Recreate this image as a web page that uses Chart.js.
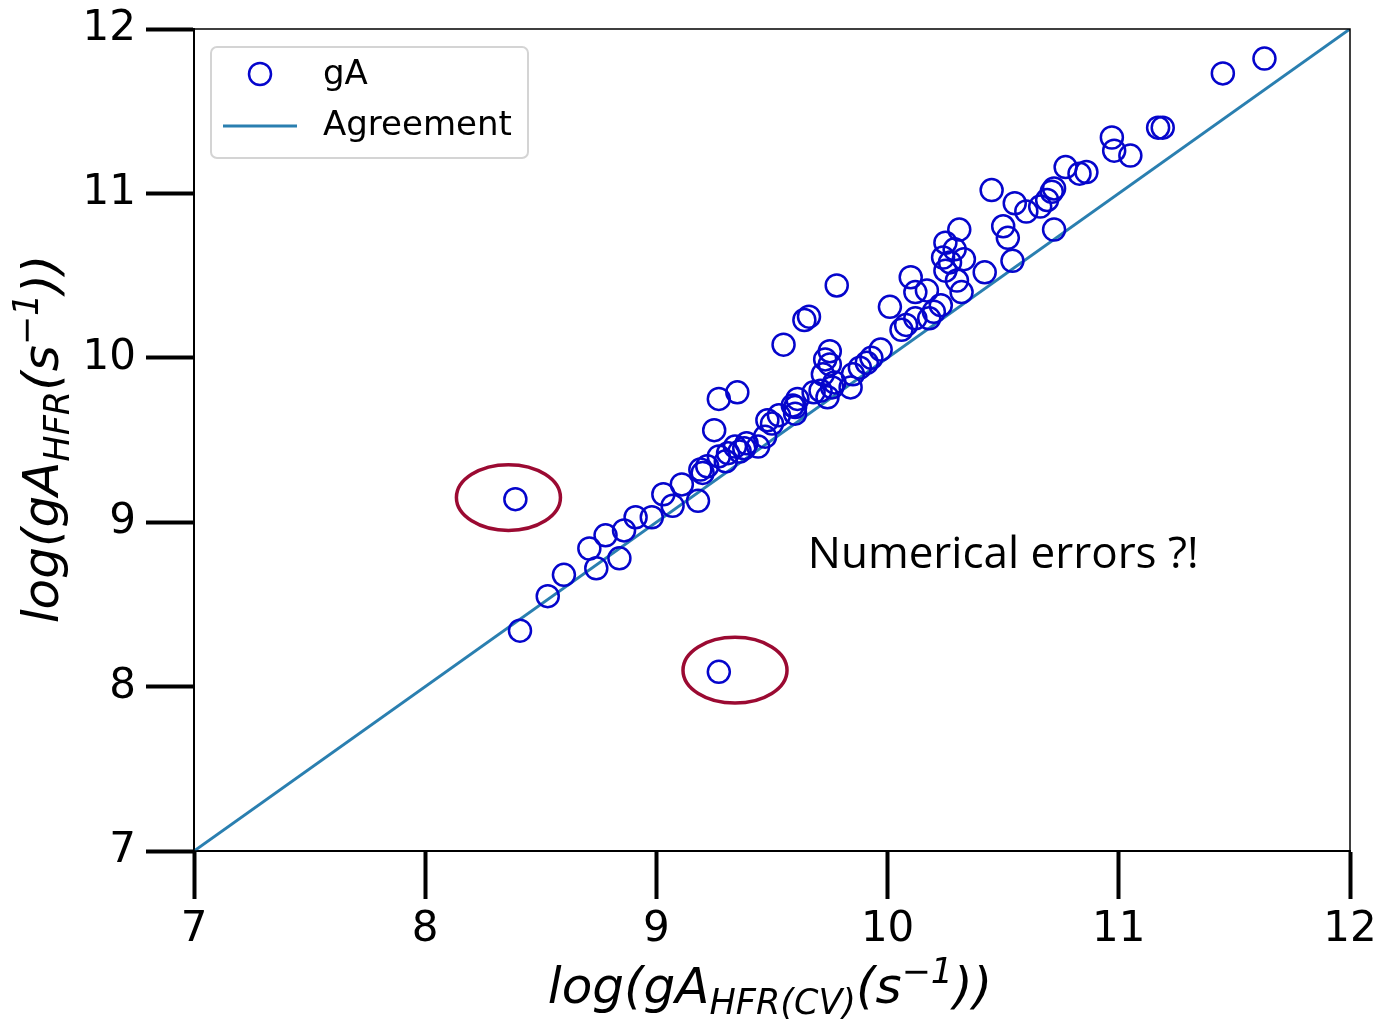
<!DOCTYPE html>
<html>
<head>
<meta charset="utf-8">
<script src="https://cdn.jsdelivr.net/npm/chart.js@4/dist/chart.umd.min.js"></script>
<style>
  html, body { margin: 0; padding: 0; background: #fff; }
  #wrap { width: 1378px; height: 1020px; }
</style>
</head>
<body>
<div id="wrap"><canvas id="gaChart" width="1378" height="1020"></canvas></div>
<script>
// log(gA_HFR(CV)) 값 (x축)
const xCV = [
    8.39, 9.27, 8.41, 8.53, 8.60, 8.71, 8.74, 8.78, 8.84, 8.86,
    8.91, 8.98, 9.03, 9.07, 9.11, 9.18, 9.19, 9.22, 9.25, 9.27,
    9.35, 9.27, 9.30, 9.31, 9.34, 9.36, 9.38, 9.39, 9.44, 9.47,
    9.48, 9.50, 9.53, 9.55, 9.59, 9.60, 9.61, 9.60, 9.64, 9.66,
    9.68, 9.71, 9.72, 9.73, 9.75, 9.76, 9.74, 9.77, 9.75, 9.78,
    9.84, 9.85, 9.88, 9.91, 9.93, 9.97, 10.01, 10.06, 10.08, 10.10,
    10.12, 10.12, 10.17, 10.18, 10.20, 10.23, 10.24, 10.25, 10.25, 10.27,
    10.29, 10.30, 10.31, 10.32, 10.33, 10.42, 10.45, 10.50, 10.52, 10.54,
    10.55, 10.60, 10.66, 10.69, 10.71, 10.72, 10.72, 10.77, 10.83, 10.86,
    10.97, 10.98, 11.05, 11.17, 11.19, 11.45, 11.63, 9.20
];
// log(gA_HFR) 값 (y축)
const yHFR = [
    9.14, 8.09, 8.34, 8.55, 8.68, 8.84, 8.72, 8.92, 8.78, 8.95,
    9.03, 9.03, 9.17, 9.10, 9.23, 9.13, 9.32, 9.34, 9.56, 9.75,
    9.79, 9.40, 9.37, 9.42, 9.46, 9.43, 9.45, 9.48, 9.46, 9.52,
    9.62, 9.60, 9.65, 10.08, 9.71, 9.66, 9.75, 9.70, 10.23, 10.25,
    9.79, 9.80, 9.90, 9.99, 10.04, 9.82, 9.76, 9.85, 9.96, 10.44,
    9.82, 9.90, 9.94, 9.97, 10.00, 10.05, 10.31, 10.17, 10.20, 10.49,
    10.24, 10.40, 10.41, 10.24, 10.28, 10.32, 10.61, 10.70, 10.53, 10.58,
    10.66, 10.47, 10.78, 10.40, 10.60, 10.52, 11.02, 10.80, 10.73, 10.59,
    10.94, 10.89, 10.92, 10.96, 11.01, 11.03, 10.78, 11.16, 11.12, 11.13,
    11.34, 11.26, 11.23, 11.40, 11.40, 11.73, 11.82, 9.30
];
// 일치선 (y = x)
const lineX = [7, 12];
const lineY = [7, 12];
const tickValues = [7, 8, 9, 10, 11, 12];
// 표시한 이상치 (타원 중심)
const outlierX = [8.36, 9.34];
const outlierY = [9.15, 8.10];

const MARK = '#0505cc';
const LINE = '#2a7fb0';
const RING = '#9b0a32';

// 수식 라벨 그리기 (아래첨자 / 위첨자)
function drawMath(ctx, parts, size) {
    let w = 0;
    parts.forEach(p => {
        ctx.font = 'italic ' + (p.k ? size * 0.7 : size) + 'px "DejaVu Sans"';
        w += ctx.measureText(p.t).width;
    });
    let x = -w / 2;
    parts.forEach(p => {
        const s = p.k ? size * 0.7 : size;
        ctx.font = 'italic ' + s + 'px "DejaVu Sans"';
        const dy = p.k === 'sub' ? size * 0.22 : (p.k === 'sup' ? -size * 0.4 : 0);
        ctx.fillText(p.t, x, dy);
        x += ctx.measureText(p.t).width;
    });
}

const overlay = {
    id: 'overlay',
    afterDatasetsDraw(chart) {
        const { ctx, chartArea: a, scales: { x, y } } = chart;
        ctx.save();
        // 프레임
        ctx.strokeStyle = '#000';
        ctx.lineWidth = 1.5;
        ctx.strokeRect(a.left, a.top, a.right - a.left, a.bottom - a.top);

        // 이상치 타원
        ctx.strokeStyle = RING;
        ctx.lineWidth = 3.5;
        outlierX.forEach((v, i) => {
            const cx = x.getPixelForValue(v), cy = y.getPixelForValue(outlierY[i]);
            const rx = x.getPixelForValue(v + 0.225) - cx;
            const ry = cy - y.getPixelForValue(outlierY[i] + 0.2);
            ctx.beginPath();
            ctx.ellipse(cx, cy, rx, ry, 0, 0, Math.PI * 2);
            ctx.stroke();
        });

        // 주석
        ctx.fillStyle = '#000';
        ctx.font = '44px "Open Sans"';
        ctx.textAlign = 'center';
        ctx.textBaseline = 'middle';
        ctx.fillText('Numerical errors ?!', x.getPixelForValue(10.5), y.getPixelForValue(8.8));

        // 범례
        const lx = a.left + 17, ly = a.top + 18;
        ctx.beginPath();
        ctx.roundRect(lx, ly, 317, 111, 6);
        ctx.fillStyle = 'rgba(255,255,255,0.85)';
        ctx.fill();
        ctx.strokeStyle = '#d4d4d4';
        ctx.lineWidth = 2;
        ctx.stroke();
        ctx.strokeStyle = MARK;
        ctx.lineWidth = 2.5;
        ctx.beginPath();
        ctx.arc(lx + 49, ly + 27, 11, 0, Math.PI * 2);
        ctx.stroke();
        ctx.strokeStyle = LINE;
        ctx.lineWidth = 3;
        ctx.beginPath();
        ctx.moveTo(lx + 12, ly + 79);
        ctx.lineTo(lx + 86, ly + 79);
        ctx.stroke();
        ctx.fillStyle = '#000';
        ctx.font = '34px "DejaVu Sans"';
        ctx.textAlign = 'left';
        ctx.fillText(chart.data.datasets[0].label, lx + 112, ly + 28);
        ctx.fillText(chart.data.datasets[1].label, lx + 112, ly + 79);

        // 축 제목
        ctx.textAlign = 'left';
        ctx.textBaseline = 'alphabetic';
        ctx.save();
        ctx.translate((a.left + a.right) / 2 - 2, 1003);
        drawMath(ctx, [{ t: 'log(gA' }, { t: 'HFR(CV)', k: 'sub' }, { t: '(s' }, { t: '\u22121', k: 'sup' }, { t: '))' }], 50);
        ctx.restore();
        ctx.save();
        ctx.translate(58, 439);
        ctx.rotate(-Math.PI / 2);
        drawMath(ctx, [{ t: 'log(gA' }, { t: 'HFR', k: 'sub' }, { t: '(s' }, { t: '\u22121', k: 'sup' }, { t: '))' }], 50);
        ctx.restore();
        ctx.restore();
    }
};

function axis(pad) {
    return {
        type: 'linear',
        min: 7,
        max: 12,
        afterBuildTicks: s => { s.ticks = tickValues.map(v => ({ value: v })); },
        ticks: { color: '#000', font: { size: 42 }, padding: pad },
        grid: { drawOnChartArea: false, drawTicks: true, tickLength: 48, tickWidth: 4, tickColor: '#000' },
        border: { display: true, color: '#000', width: 2 }
    };
}

document.addEventListener('DOMContentLoaded', () => {
    Chart.defaults.font.family = '"DejaVu Sans"';
    const xAxis = axis(6);
    xAxis.afterFit = s => { s.height = 169; s.paddingLeft = 0; s.paddingRight = 0; };
    const yAxis = axis(10);
    yAxis.afterFit = s => { s.width = 194; s.paddingTop = 0; s.paddingBottom = 0; };

    new Chart(document.getElementById('gaChart'), {
        type: 'scatter',
        data: {
            datasets: [
                {
                    label: 'gA',
                    data: xCV.map((v, i) => ({ x: v, y: yHFR[i] })),
                    pointRadius: 11,
                    pointBorderWidth: 2.5,
                    pointBorderColor: MARK,
                    pointBackgroundColor: 'rgba(0,0,0,0)',
                    order: 1
                },
                {
                    label: 'Agreement',
                    type: 'line',
                    data: lineX.map((v, i) => ({ x: v, y: lineY[i] })),
                    borderColor: LINE,
                    borderWidth: 3,
                    pointRadius: 0,
                    order: 2
                }
            ]
        },
        options: {
            responsive: false,
            animation: false,
            layout: { padding: { top: 29, right: 28, left: 0, bottom: 0 } },
            plugins: { legend: { display: false }, tooltip: { enabled: false } },
            scales: { x: xAxis, y: yAxis }
        },
        plugins: [overlay]
    });
});
</script>
</body>
</html>
